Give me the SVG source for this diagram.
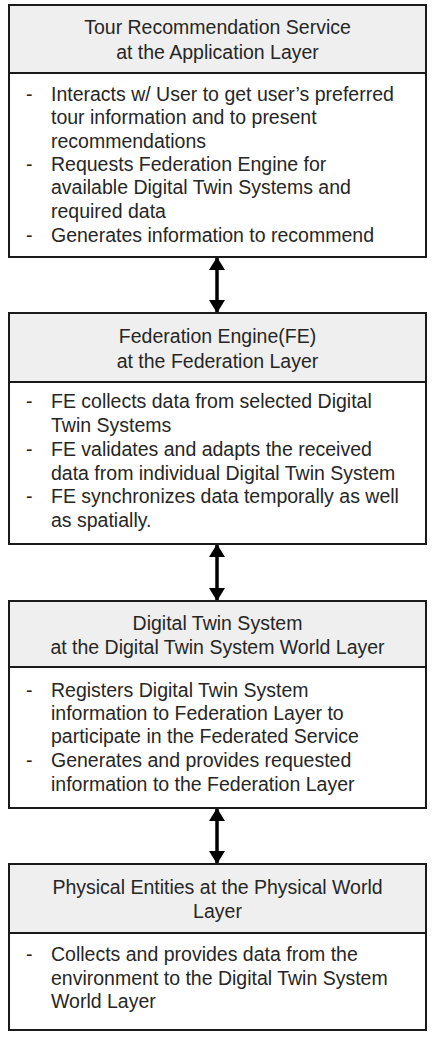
<svg xmlns="http://www.w3.org/2000/svg" width="438" height="1038" viewBox="0 0 438 1038">
<style>
.box{fill:#ffffff;stroke:#1a1a1a;stroke-width:2}
.hdr{fill:#efefef;stroke:#1a1a1a;stroke-width:2}
text{font-family:"Liberation Sans",Arial,sans-serif;font-size:19.5px;fill:#262626}
.c{text-anchor:middle}
.conn{stroke:#000;stroke-width:3.5;fill:none;marker-start:url(#ah);marker-end:url(#ah)}
</style>
<defs>
<marker id="ah" viewBox="0 0 13 16" refX="12" refY="8" markerWidth="13" markerHeight="16" markerUnits="userSpaceOnUse" orient="auto-start-reverse">
<path d="M0,0 L13,8 L0,16 Z" fill="#000"/>
</marker>
</defs>
<rect width="438" height="1038" fill="#fff"/>
<g id="connectors">
<line class="conn" x1="217" y1="258" x2="217" y2="312"/>
<line class="conn" x1="217" y1="545" x2="217" y2="600"/>
<line class="conn" x1="217" y1="809" x2="217" y2="863"/>
</g>
<g id="tour-recommendation-service">
<rect class="box" x="9" y="5" width="417" height="252"/>
<rect class="hdr" x="9" y="5" width="417" height="68"/>
<text class="c" x="217.5" y="34">Tour Recommendation Service</text>
<text class="c" x="217.5" y="59">at the Application Layer</text>
<text x="26" y="101">-</text><text x="51" y="101">Interacts w/ User to get user’s preferred</text>
<text x="51" y="124">tour information and to present</text>
<text x="51" y="148">recommendations</text>
<text x="26" y="171">-</text><text x="51" y="171">Requests Federation Engine for</text>
<text x="51" y="194">available Digital Twin Systems and</text>
<text x="51" y="218">required data</text>
<text x="26" y="242">-</text><text x="51" y="242">Generates information to recommend</text>
</g>
<g id="federation-engine">
<rect class="box" x="9" y="313" width="417" height="231"/>
<rect class="hdr" x="9" y="313" width="417" height="69"/>
<text class="c" x="217.5" y="343">Federation Engine(FE)</text>
<text class="c" x="217.5" y="368">at the Federation Layer</text>
<text x="26" y="408">-</text><text x="51" y="408">FE collects data from selected Digital</text>
<text x="51" y="432">Twin Systems</text>
<text x="26" y="456">-</text><text x="51" y="456">FE validates and adapts the received</text>
<text x="51" y="480">data from individual Digital Twin System</text>
<text x="26" y="503">-</text><text x="51" y="503">FE synchronizes data temporally as well</text>
<text x="51" y="527">as spatially.</text>
</g>
<g id="digital-twin-system">
<rect class="box" x="9" y="601" width="417" height="207"/>
<rect class="hdr" x="9" y="601" width="417" height="66"/>
<text class="c" x="217.5" y="630">Digital Twin System</text>
<text class="c" x="217.5" y="654">at the Digital Twin System World Layer</text>
<text x="26" y="697">-</text><text x="51" y="697">Registers Digital Twin System</text>
<text x="51" y="720">information to Federation Layer to</text>
<text x="51" y="743">participate in the Federated Service</text>
<text x="26" y="767">-</text><text x="51" y="767">Generates and provides requested</text>
<text x="51" y="791">information to the Federation Layer</text>
</g>
<g id="physical-entities">
<rect class="box" x="9" y="864" width="417" height="166"/>
<rect class="hdr" x="9" y="864" width="417" height="69"/>
<text class="c" x="217.5" y="894">Physical Entities at the Physical World</text>
<text class="c" x="217.5" y="918">Layer</text>
<text x="26" y="961">-</text><text x="51" y="961">Collects and provides data from the</text>
<text x="51" y="985">environment to the Digital Twin System</text>
<text x="51" y="1008">World Layer</text>
</g>
</svg>
